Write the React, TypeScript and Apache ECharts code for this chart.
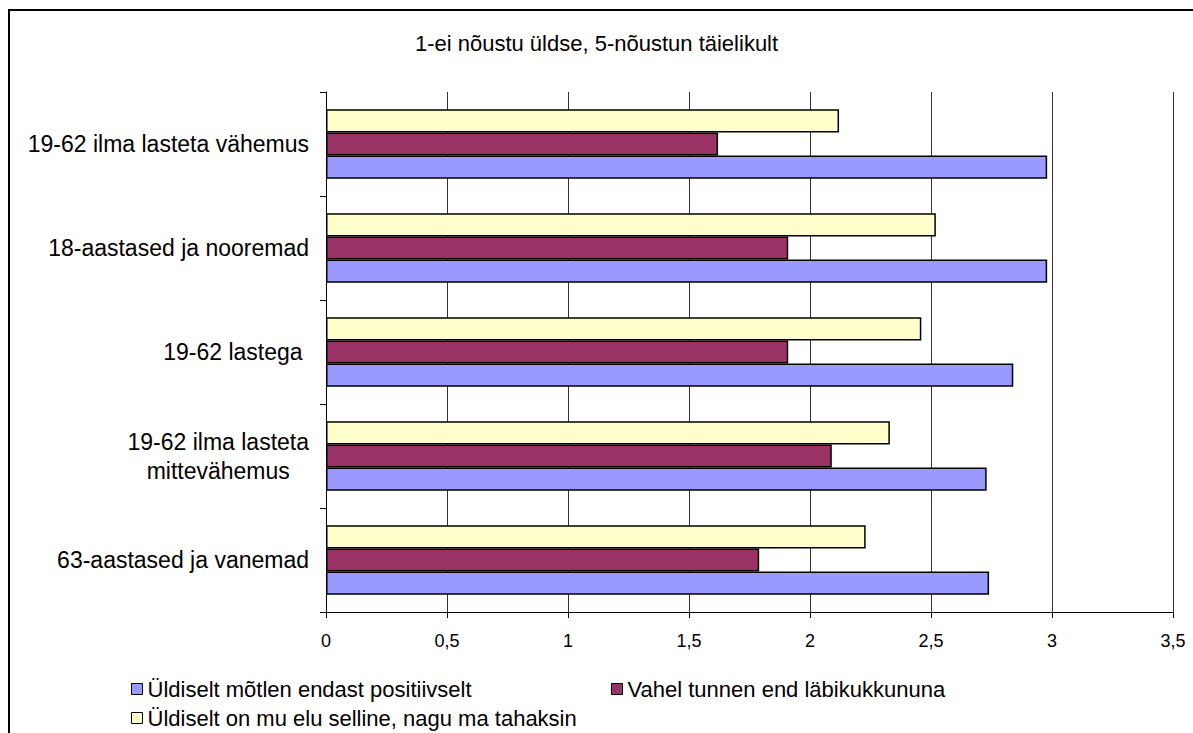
import React, { useEffect, useRef } from "react";
import * as echarts from "echarts";

const categories = [
  "63-aastased ja vanemad",
  "19-62 ilma lasteta\nmittevähemus   ",
  "19-62 lastega ",
  "18-aastased ja nooremad",
  "19-62 ilma lasteta vähemus",
];
const seriesNames = [
  "Üldiselt mõtlen endast positiivselt",
  "Vahel tunnen end läbikukkununa",
  "Üldiselt on mu elu selline, nagu ma tahaksin",
];
const positiveValues = [2.74, 2.73, 2.84, 2.98, 2.98];
const failureValues = [1.79, 2.09, 1.91, 1.91, 1.62];
const lifeValues = [2.23, 2.33, 2.46, 2.52, 2.12];
const colors = ["#9999FF", "#993366", "#FFFFCC"];
const title = "1-ei nõustu üldse, 5-nõustun täielikult";

const FONT = "'Liberation Sans', Arial, sans-serif";

export default function App() {
  const ref = useRef<HTMLDivElement>(null);
  useEffect(() => {
    if (!ref.current) return;
    const chart = echarts.init(ref.current, null, { renderer: "svg" });
    const values = [positiveValues, failureValues, lifeValues];
    const legendBase = {
      icon: "rect",
      itemWidth: 11,
      itemHeight: 11,
      padding: 0,
      textStyle: { fontFamily: FONT, fontSize: 22, color: "#000" },
      itemStyle: { borderColor: "#000", borderWidth: 1 },
      selectedMode: false,
      orient: "horizontal",
    };
    // ECharts stacks the first series at the top of a horizontal group,
    // so the series are added in reverse to keep the first one at the bottom.
    const order = [2, 1, 0];
    chart.setOption({
      animation: false,
      backgroundColor: "#fff",
      title: {
        text: title,
        left: "center",
        top: 32,
        padding: 0,
        textStyle: { fontFamily: FONT, fontSize: 22, fontWeight: "normal", color: "#000" },
      },
      graphic: [
        {
          type: "rect",
          shape: { x: 9, y: 10, width: 1400, height: 1000 },
          style: { fill: "none", stroke: "#000", lineWidth: 2 },
          silent: true,
          z: -1,
        },
      ],
      legend: [
        { ...legendBase, data: [seriesNames[0]], left: 131, top: 678 },
        { ...legendBase, data: [seriesNames[1]], left: 611, top: 678 },
        { ...legendBase, data: [seriesNames[2]], left: 131, top: 707 },
      ],
      grid: { left: 326, right: 20, top: 92, bottom: 121, containLabel: false },
      xAxis: {
        type: "value",
        min: 0,
        max: 3.5,
        interval: 0.5,
        axisLine: { show: true, lineStyle: { color: "#000", width: 1 } },
        axisTick: { show: true, length: 6, lineStyle: { color: "#000" } },
        splitLine: { show: true, lineStyle: { color: "#333", width: 1 } },
        axisLabel: {
          fontFamily: FONT,
          fontSize: 18,
          color: "#000",
          margin: 20,
          formatter: (v: number) => String(v).replace(".", ","),
        },
      },
      yAxis: {
        type: "category",
        data: categories,
        axisLine: { show: true, lineStyle: { color: "#000", width: 1 } },
        axisTick: { show: true, length: 6, lineStyle: { color: "#000" } },
        splitLine: { show: false },
        axisLabel: {
          fontFamily: FONT,
          fontSize: 23,
          color: "#000",
          margin: 17,
          lineHeight: 29,
        },
      },
      series: order.map((i) => ({
        name: seriesNames[i],
        type: "bar",
        data: values[i],
        barGap: "0%",
        barCategoryGap: "33%",
        itemStyle: { color: colors[i], borderColor: "#000", borderWidth: 1.5 },
      })),
    });
    return () => chart.dispose();
  }, []);
  return (
    <div
      ref={ref}
      style={{ position: "fixed", left: 0, top: 0, width: 1193, height: 733 }}
    />
  );
}
